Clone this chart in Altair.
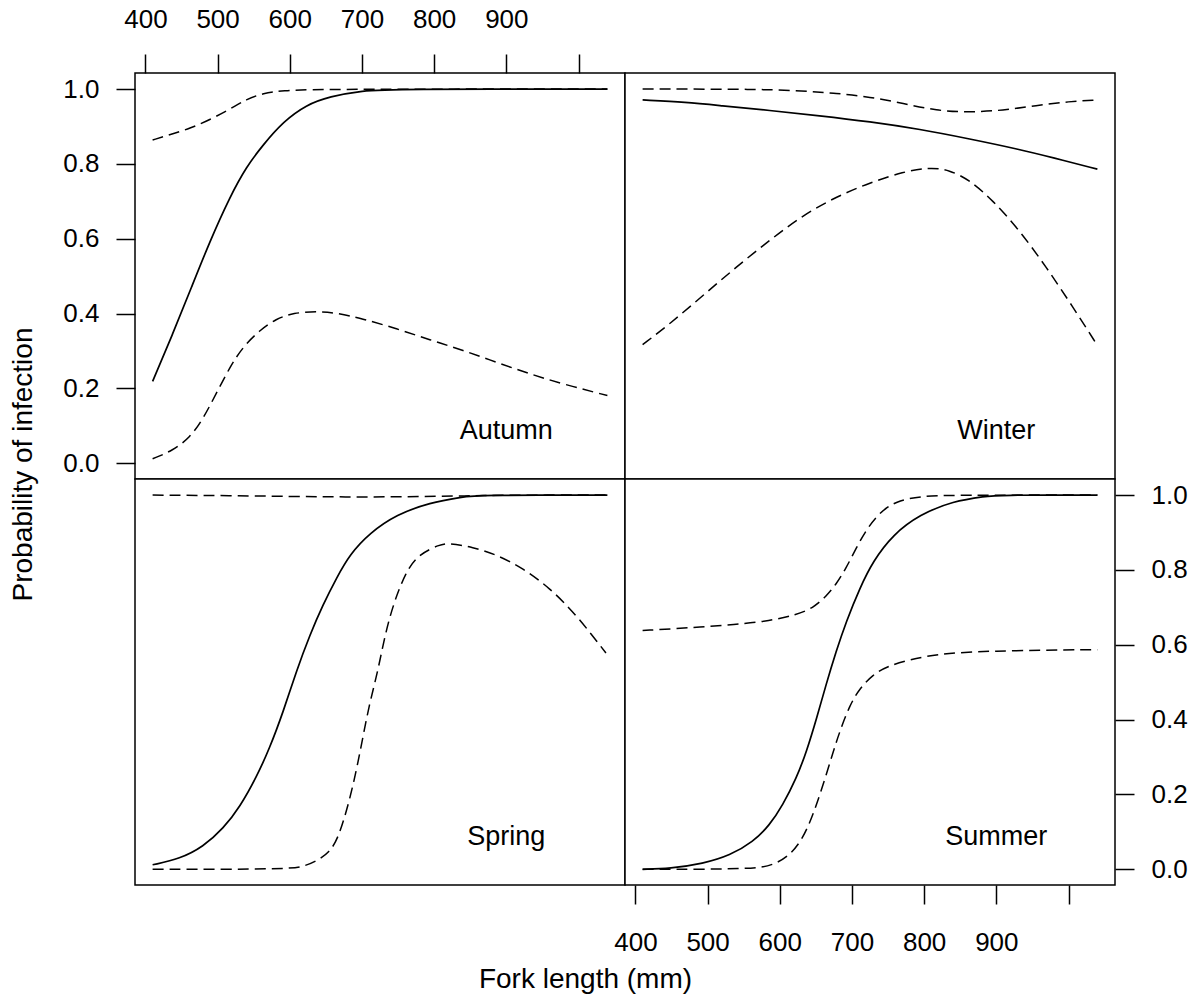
import altair as alt
import pandas as pd

FONT = "Liberation Sans"

# ---------------- data ----------------
# Autumn
autumn_fit_x = [410, 438, 464, 489, 517, 540, 563, 591, 623, 655, 701, 743, 1040]
autumn_fit_y = [0.219, 0.346, 0.471, 0.592, 0.712, 0.793, 0.851, 0.913, 0.958, 0.980, 0.996, 1.0, 1.0]
autumn_upper_x = [410, 434, 462, 489, 517, 540, 563, 591, 632, 1040]
autumn_upper_y = [0.864, 0.878, 0.895, 0.918, 0.946, 0.973, 0.989, 0.996, 1.0, 1.0]
autumn_lower_x = [410, 438, 462, 480, 498, 517, 535, 558, 581, 605, 637, 665, 701, 748, 794, 840, 886, 932, 978, 1040]
autumn_lower_y = [0.012, 0.034, 0.069, 0.119, 0.186, 0.257, 0.311, 0.355, 0.386, 0.402, 0.406, 0.402, 0.386, 0.360, 0.330, 0.302, 0.270, 0.239, 0.212, 0.181]

# Winter
winter_fit_x = [410, 471, 517, 586, 655, 725, 794, 863, 932, 978, 1040]
winter_fit_y = [0.971, 0.965, 0.956, 0.943, 0.929, 0.913, 0.893, 0.867, 0.839, 0.817, 0.786]
winter_upper_x = [410, 572, 632, 678, 725, 771, 817, 863, 909, 955, 1001, 1040]
winter_upper_y = [1.0, 1.0, 0.995, 0.989, 0.979, 0.962, 0.942, 0.938, 0.943, 0.956, 0.967, 0.971]
winter_lower_x = [410, 448, 494, 540, 586, 632, 678, 725, 771, 808, 835, 863, 895, 932, 969, 1006, 1040]
winter_lower_y = [0.317, 0.373, 0.449, 0.525, 0.596, 0.663, 0.712, 0.750, 0.779, 0.791, 0.784, 0.757, 0.703, 0.623, 0.525, 0.418, 0.315]

# Spring
spring_fit_x = [410, 448, 480, 508, 531, 554, 572, 591, 609, 628, 646, 665, 683, 711, 748, 794, 840, 858, 1040]
spring_fit_y = [0.012, 0.028, 0.060, 0.109, 0.167, 0.247, 0.323, 0.421, 0.529, 0.627, 0.707, 0.779, 0.841, 0.899, 0.948, 0.980, 0.995, 1.0, 1.0]
spring_upper_x = [410, 550, 650, 750, 850, 900, 1040]
spring_upper_y = [1.0, 0.998, 0.995, 0.995, 0.998, 1.0, 1.0]
spring_lower_x = [410, 600, 620, 639, 655, 667, 681, 692, 701, 710, 722, 731, 743, 761, 778, 808, 819, 854, 886, 923, 960, 997, 1038]
spring_lower_y = [0.0, 0.0, 0.008, 0.024, 0.046, 0.082, 0.171, 0.261, 0.350, 0.439, 0.529, 0.618, 0.707, 0.796, 0.841, 0.868, 0.872, 0.861, 0.841, 0.805, 0.752, 0.680, 0.578]

# Summer
summer_fit_x = [410, 448, 494, 531, 563, 586, 604, 623, 637, 651, 664, 678, 692, 711, 729, 757, 794, 840, 886, 900, 1040]
summer_fit_y = [0.0, 0.002, 0.015, 0.037, 0.073, 0.118, 0.171, 0.243, 0.314, 0.403, 0.493, 0.582, 0.662, 0.752, 0.823, 0.895, 0.948, 0.984, 0.997, 1.0, 1.0]
summer_upper_x = [410, 471, 540, 586, 623, 646, 664, 678, 692, 706, 720, 738, 761, 794, 840, 1040]
summer_upper_y = [0.638, 0.645, 0.654, 0.664, 0.680, 0.698, 0.729, 0.761, 0.805, 0.859, 0.908, 0.953, 0.984, 0.997, 1.0, 1.0]
summer_lower_x = [410, 563, 591, 614, 632, 646, 660, 674, 683, 697, 711, 729, 748, 780, 817, 886, 1040]
summer_lower_y = [0.0, 0.0, 0.011, 0.037, 0.082, 0.145, 0.225, 0.314, 0.368, 0.439, 0.484, 0.520, 0.542, 0.560, 0.575, 0.584, 0.587]

seasons = ["Autumn", "Winter", "Spring", "Summer"]
label_x = [900, 900, 900, 900]
label_y = [0.065, 0.065, 0.065, 0.065]

x_ticks = [400, 500, 600, 700, 800, 900, 1000]
y_ticks = [0.0, 0.2, 0.4, 0.6, 0.8, 1.0]

X_DOMAIN = [385.6, 1064.4]
Y_DOMAIN = [-0.042, 1.043]

# ---------------- tables ----------------
curves = {
    ("Autumn", "fit"): (autumn_fit_x, autumn_fit_y),
    ("Autumn", "upper"): (autumn_upper_x, autumn_upper_y),
    ("Autumn", "lower"): (autumn_lower_x, autumn_lower_y),
    ("Winter", "fit"): (winter_fit_x, winter_fit_y),
    ("Winter", "upper"): (winter_upper_x, winter_upper_y),
    ("Winter", "lower"): (winter_lower_x, winter_lower_y),
    ("Spring", "fit"): (spring_fit_x, spring_fit_y),
    ("Spring", "upper"): (spring_upper_x, spring_upper_y),
    ("Spring", "lower"): (spring_lower_x, spring_lower_y),
    ("Summer", "fit"): (summer_fit_x, summer_fit_y),
    ("Summer", "upper"): (summer_upper_x, summer_upper_y),
    ("Summer", "lower"): (summer_lower_x, summer_lower_y),
}
frames = []
for (s, c), (xs, ys) in curves.items():
    frames.append(pd.DataFrame({"season": s, "curve": c, "length": xs, "prob": ys}))
df = pd.concat(frames, ignore_index=True)
labels_df = pd.DataFrame({"season": seasons, "length": label_x, "prob": label_y})

# ---------------- axes ----------------
common = dict(tickSize=19, tickWidth=1.5, tickColor="black", labelColor="black",
              labelFontSize=26, labelFont=FONT, domain=False, grid=False,
              labelFlush=False, labelOverlap=False)

xa_top = alt.Axis(orient="top", values=x_ticks, format="d",
                  labelExpr="datum.value >= 1000 ? '' : datum.label",
                  labelPadding=22, title=None, **common)
xa_bottom = alt.Axis(orient="bottom", values=x_ticks, format="d",
                     labelExpr="datum.value >= 1000 ? '' : datum.label",
                     labelPadding=25, title="Fork length (mm)",
                     titleX=-40, titleY=102, titleAlign="center", titleBaseline="alphabetic",
                     titleFontSize=28, titleFont=FONT, titleFontWeight="normal",
                     titleColor="black", **common)
ya_left = alt.Axis(orient="left", values=y_ticks, format=".1f", labelPadding=17,
                   title="Probability of infection", titleX=-104, titleY=391,
                   titleAngle=270, titleAlign="center", titleBaseline="alphabetic",
                   titleFontSize=28, titleFont=FONT, titleFontWeight="normal",
                   titleColor="black", **common)
ya_right = alt.Axis(orient="right", values=y_ticks, format=".1f", labelPadding=17,
                    title=None, **common)

VIEW = alt.ViewBackground(stroke="black", strokeWidth=1.5, fill="white")


def panel(season, x_axis, y_axis):
    d = df[df.season == season]
    x = alt.X("length:Q", scale=alt.Scale(domain=X_DOMAIN, nice=False, zero=False), axis=x_axis)
    y = alt.Y("prob:Q", scale=alt.Scale(domain=Y_DOMAIN, nice=False, zero=False), axis=y_axis)
    dashed = alt.Chart(d[d.curve != "fit"]).mark_line(
        color="black", strokeWidth=1.5, strokeDash=[11, 6], interpolate="basis"
    ).encode(x=x, y=y, detail="curve:N")
    solid = alt.Chart(d[d.curve == "fit"]).mark_line(
        color="black", strokeWidth=1.7, interpolate="basis"
    ).encode(x=x, y=y)
    lab = alt.Chart(labels_df[labels_df.season == season]).mark_text(
        fontSize=27, align="center", baseline="alphabetic", font=FONT, color="black"
    ).encode(x=alt.X("length:Q"), y=alt.Y("prob:Q"), text="season:N")
    return alt.layer(dashed, solid, lab).properties(width=490, height=406, view=VIEW)


pA = panel("Autumn", xa_top, ya_left)
pB = panel("Winter", None, None)
pC = panel("Spring", None, None)
pD = panel("Summer", xa_bottom, ya_right)

chart = alt.concat(pA, pB, pC, pD, columns=2, spacing=0, bounds="flush").properties(
    padding={"left": 8, "top": 5, "right": 5, "bottom": 5}
).configure(background="white").configure_view(stroke="black", strokeWidth=1.5)

chart.save("out.html", embed_options={"renderer": "svg", "actions": False})
